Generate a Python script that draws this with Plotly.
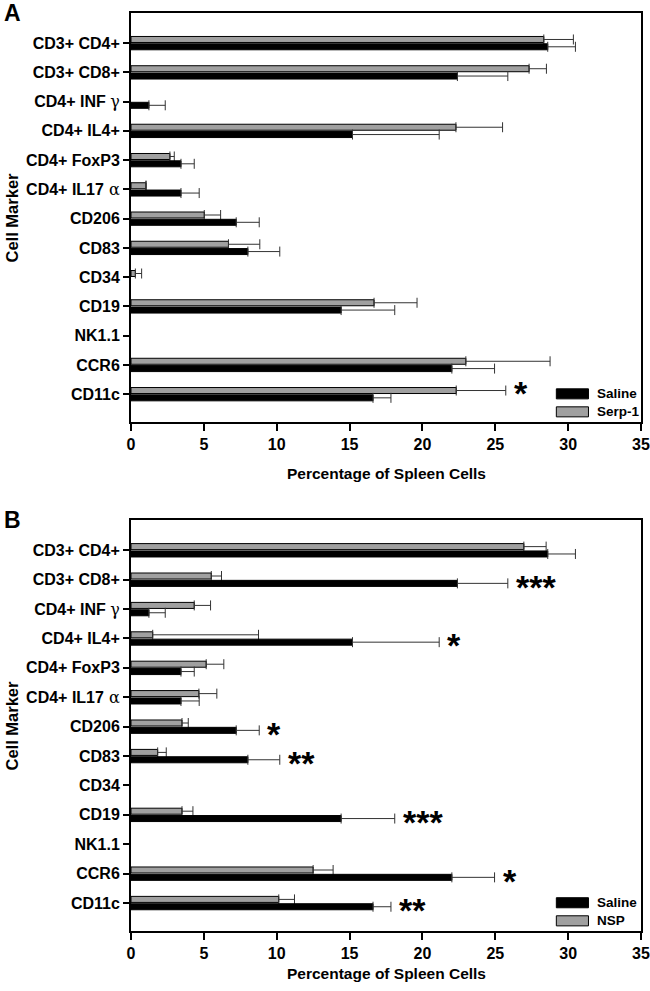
import plotly.graph_objects as go
from plotly.subplots import make_subplots

categories = ["CD3+ CD4+", "CD3+ CD8+", "CD4+ INF γ", "CD4+ IL4+", "CD4+ FoxP3",
              "CD4+ IL17α", "CD206", "CD83", "CD34", "CD19", "NK1.1", "CCR6", "CD11c"]
tick_labels = ["CD3+ CD4+", "CD3+ CD8+",
               "CD4+ INF <span style='font-family:DejaVu Serif;font-weight:normal'>γ</span>",
               "CD4+ IL4+", "CD4+ FoxP3",
               "CD4+ IL17<span style='font-family:DejaVu Serif;font-weight:normal'> α</span>",
               "CD206", "CD83", "CD34", "CD19", "NK1.1", "CCR6", "CD11c"]
x_ticks = [0, 5, 10, 15, 20, 25, 30, 35]

saline = [28.6, 22.4, 1.23, 15.2, 3.43, 3.43, 7.22, 8.02, None, 14.42, None, 22.02, 16.61]
saline_err = [1.9, 3.46, 1.12, 5.95, 0.91, 1.25, 1.58, 2.19, None, 3.68, None, 2.93, 1.23]

serp1 = [28.33, 27.32, None, 22.3, 2.67, 1.03, 5.03, 6.69, 0.3, 16.68, None, 22.98, 22.32]
serp1_err = [2.03, 1.19, None, 3.2, 0.30, None, 1.12, 2.15, 0.43, 2.95, None, 5.78, 3.4]

nsp = [26.96, 5.51, 4.34, 1.49, 5.16, 4.66, 3.5, 1.83, None, 3.5, None, 12.5, 10.14]
nsp_err = [1.53, 0.70, 1.12, 7.26, 1.21, 1.23, 0.43, 0.59, None, 0.75, None, 1.37, 1.08]

sig_a = {"CD11c": "*"}
sig_b = {"CD3+ CD8+": "***", "CD4+ IL4+": "*", "CD206": "*", "CD83": "**",
         "CD19": "***", "CCR6": "*", "CD11c": "**"}

FONT = "Liberation Sans, Arial, sans-serif"
BLACK = "#000000"
GRAY = "#a0a0a0"

fig = make_subplots(rows=2, cols=1, vertical_spacing=0.1068)


def add_panel(row, treat_name, treat, treat_err, sig, sig_on_treat, letter, title_shift):
    # treated (gray) first so it sits on top with reversed axis
    fig.add_trace(go.Bar(
        y=categories, x=treat, orientation="h", name=treat_name,
        marker=dict(color=GRAY, line=dict(color=BLACK, width=1)),
        error_x=dict(type="data", array=treat_err, arrayminus=[0] * len(treat_err),
                     symmetric=False, color="#333333", thickness=1, width=5),
        showlegend=False), row=row, col=1)
    fig.add_trace(go.Bar(
        y=categories, x=saline, orientation="h", name="Saline",
        marker=dict(color=BLACK, line=dict(color=BLACK, width=1)),
        error_x=dict(type="data", array=saline_err, arrayminus=[0] * len(saline_err),
                     symmetric=False, color="#333333", thickness=1, width=5),
        showlegend=False), row=row, col=1)

    xr = "x" if row == 1 else "x2"
    yr = "y" if row == 1 else "y2"
    # significance stars
    for cat, s in sig.items():
        i = categories.index(cat)
        if sig_on_treat:
            xv = treat[i] + treat_err[i]
            ys = 1
        else:
            xv = saline[i] + saline_err[i]
            ys = -7
        fig.add_annotation(x=xv, y=cat, xref=xr, yref=yr, text=s, showarrow=False,
                           xanchor="left", yanchor="middle", xshift=6, yshift=ys,
                           font=dict(family=FONT, size=34, color=BLACK, weight="bold"))
    # panel letter
    fig.add_annotation(x=0, y=1, xref=xr + " domain", yref=yr + " domain", text=letter,
                       showarrow=False, xanchor="center", yanchor="middle",
                       xshift=-119, yshift=0,
                       font=dict(family=FONT, size=23, color=BLACK, weight="bold"))
    # axis titles
    fig.add_annotation(x=0.5, y=0, xref=xr + " domain", yref=yr + " domain",
                       text="Percentage of Spleen Cells", showarrow=False,
                       xanchor="center", yanchor="middle", yshift=title_shift,
                       font=dict(family=FONT, size=15.5, color=BLACK, weight="bold"))
    fig.add_annotation(x=0, y=0.5, xref=xr + " domain", yref=yr + " domain",
                       text="Cell Marker", showarrow=False, textangle=-90,
                       xanchor="center", yanchor="middle", xshift=-119,
                       font=dict(family=FONT, size=16.5, color=BLACK, weight="bold"))
    # legend
    items = [("Saline", BLACK, 0.0565, 0.0810, 0.0687),
             (treat_name, GRAY, 0.0125, 0.0370, 0.0247)]
    for name, col, y0, y1, yc in items:
        fig.add_shape(type="rect", xref=xr + " domain", yref=yr + " domain",
                      x0=0.834, x1=0.897, y0=y0, y1=y1,
                      fillcolor=col, line=dict(color=BLACK, width=1))
        fig.add_annotation(x=0.909, y=yc, xref=xr + " domain", yref=yr + " domain",
                           text=name, showarrow=False, xanchor="left", yanchor="middle",
                           font=dict(family=FONT, size=13.5, color=BLACK, weight="bold"))


add_panel(1, "Serp-1", serp1, serp1_err, sig_a, True, "A", -52)
add_panel(2, "NSP", nsp, nsp_err, sig_b, False, "B", -42)

axis_x = dict(range=[0, 35], tickvals=x_ticks, ticks="outside", ticklen=7, tickwidth=1.5,
              tickcolor=BLACK, showline=True, linewidth=2, linecolor=BLACK, mirror=True,
              showgrid=False, zeroline=False, automargin=False,
              tickfont=dict(family=FONT, size=16, color=BLACK, weight="bold"))
axis_y = dict(type="category", categoryorder="array", categoryarray=categories,
              range=[12.95, -1.03], tickmode="array", tickvals=categories,
              ticktext=tick_labels, ticks="outside", ticklen=6, tickwidth=1.5,
              tickcolor=BLACK, showline=True, linewidth=2, linecolor=BLACK, mirror=True,
              showgrid=False, zeroline=False, automargin=False,
              tickfont=dict(family=FONT, size=16, color=BLACK, weight="bold"))

fig.update_xaxes(**axis_x)
fig.update_yaxes(**axis_y)
fig.update_layout(
    template="none",
    width=650, height=991,
    margin=dict(l=131, r=9, t=13, b=60, autoexpand=False),
    barmode="group", bargap=0.5, bargroupgap=0.18,
    plot_bgcolor="white", paper_bgcolor="white",
    font=dict(family=FONT, color=BLACK),
    showlegend=False,
)
fig.update_layout(yaxis=dict(domain=[0.5545, 1.0]), yaxis2=dict(domain=[0.0, 0.4477]))

fig.write_html("out.html",
               config={"displayModeBar": False},
               post_script="document.body.style.margin='0px';"
                           "document.body.style.overflow='hidden';")
